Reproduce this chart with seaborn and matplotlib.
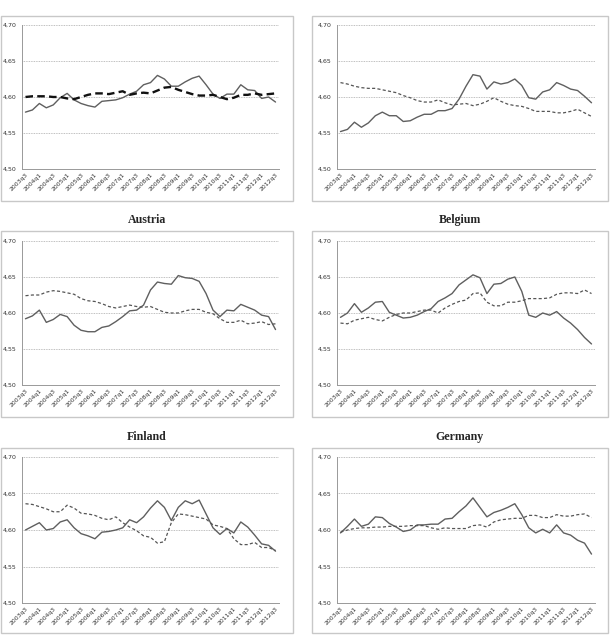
import numpy as np
import pandas as pd
from matplotlib import pyplot as plt
from matplotlib.patches import Rectangle
import seaborn as sns

# quarters 2003q3 .. 2012q3
quarters = [f'{y}q{q}' for y in range(2003, 2013) for q in (1, 2, 3, 4)][2:-1]

titles = ['', '', 'Austria', 'Belgium', 'Finland', 'Germany']

solid_1 = [4.579, 4.582, 4.591, 4.585, 4.589, 4.599, 4.605, 4.596, 4.591, 4.588, 4.586, 4.594, 4.595,
           4.596, 4.599, 4.604, 4.608, 4.617, 4.620, 4.630, 4.625, 4.615, 4.615, 4.621, 4.626, 4.629,
           4.617, 4.604, 4.598, 4.604, 4.604, 4.617, 4.610, 4.609, 4.598, 4.600, 4.593]
dashed_1 = [4.600, 4.601, 4.601, 4.601, 4.600, 4.600, 4.598, 4.597, 4.600, 4.603, 4.605, 4.605, 4.604,
            4.606, 4.608, 4.603, 4.605, 4.606, 4.605, 4.609, 4.613, 4.614, 4.610, 4.607, 4.604, 4.602,
            4.602, 4.603, 4.600, 4.597, 4.599, 4.603, 4.603, 4.605, 4.603, 4.604, 4.605]

solid_2 = [4.552, 4.555, 4.565, 4.558, 4.564, 4.574, 4.579, 4.574, 4.574, 4.566, 4.567, 4.572, 4.576,
           4.576, 4.581, 4.581, 4.584, 4.597, 4.615, 4.631, 4.629, 4.611, 4.621, 4.618, 4.620, 4.625,
           4.616, 4.599, 4.597, 4.607, 4.610, 4.620, 4.616, 4.611, 4.609, 4.601, 4.592]
dashed_2 = [4.620, 4.618, 4.615, 4.613, 4.612, 4.612, 4.610, 4.608, 4.606, 4.602, 4.599, 4.595, 4.593,
            4.593, 4.596, 4.592, 4.589, 4.590, 4.591, 4.588, 4.590, 4.594, 4.599, 4.594, 4.590, 4.588,
            4.587, 4.584, 4.580, 4.580, 4.580, 4.578, 4.578, 4.580, 4.583, 4.578, 4.573]

solid_at = [4.592, 4.596, 4.604, 4.587, 4.591, 4.598, 4.595, 4.583, 4.576, 4.574, 4.574, 4.580, 4.582,
            4.588, 4.595, 4.603, 4.604, 4.611, 4.632, 4.643, 4.641, 4.640, 4.652, 4.649, 4.648, 4.644,
            4.627, 4.604, 4.595, 4.604, 4.603, 4.612, 4.608, 4.604, 4.597, 4.595, 4.577]
dashed_at = [4.624, 4.625, 4.625, 4.629, 4.631, 4.630, 4.628, 4.626, 4.620, 4.617, 4.616, 4.613, 4.609,
             4.607, 4.609, 4.611, 4.609, 4.608, 4.609, 4.605, 4.601, 4.600, 4.600, 4.603, 4.605, 4.605,
             4.601, 4.599, 4.592, 4.587, 4.587, 4.590, 4.585, 4.586, 4.588, 4.584, 4.585]

solid_be = [4.594, 4.600, 4.613, 4.601, 4.607, 4.615, 4.616, 4.601, 4.597, 4.593, 4.594, 4.597, 4.602,
            4.606, 4.616, 4.621, 4.627, 4.639, 4.646, 4.653, 4.649, 4.627, 4.640, 4.641, 4.647, 4.650,
            4.630, 4.597, 4.594, 4.600, 4.597, 4.602, 4.593, 4.586, 4.577, 4.566, 4.557]
dashed_be = [4.586, 4.585, 4.590, 4.592, 4.594, 4.591, 4.589, 4.594, 4.598, 4.600, 4.600, 4.602, 4.604,
             4.604, 4.600, 4.607, 4.612, 4.616, 4.618, 4.627, 4.628, 4.615, 4.610, 4.610, 4.615, 4.615,
             4.617, 4.620, 4.620, 4.620, 4.621, 4.626, 4.628, 4.628, 4.627, 4.632, 4.627]

solid_fi = [4.600, 4.605, 4.610, 4.600, 4.602, 4.611, 4.614, 4.603, 4.595, 4.592, 4.588, 4.597, 4.598,
            4.600, 4.603, 4.614, 4.610, 4.618, 4.630, 4.640, 4.631, 4.613, 4.631, 4.640, 4.636, 4.641,
            4.622, 4.603, 4.594, 4.602, 4.596, 4.611, 4.604, 4.593, 4.581, 4.579, 4.571]
dashed_fi = [4.636, 4.635, 4.632, 4.629, 4.625, 4.625, 4.634, 4.630, 4.623, 4.622, 4.620, 4.616, 4.614,
             4.618, 4.610, 4.604, 4.599, 4.592, 4.590, 4.582, 4.584, 4.610, 4.622, 4.621, 4.619, 4.617,
             4.615, 4.607, 4.605, 4.602, 4.588, 4.580, 4.580, 4.583, 4.576, 4.576, 4.572]

solid_de = [4.596, 4.605, 4.615, 4.605, 4.608, 4.618, 4.617, 4.609, 4.604, 4.598, 4.600, 4.607, 4.607,
            4.608, 4.608, 4.615, 4.616, 4.625, 4.633, 4.644, 4.631, 4.618, 4.624, 4.627, 4.631, 4.636,
            4.621, 4.603, 4.596, 4.601, 4.596, 4.607, 4.596, 4.593, 4.586, 4.582, 4.567]
dashed_de = [4.597, 4.600, 4.602, 4.603, 4.603, 4.604, 4.604, 4.605, 4.605, 4.605, 4.606, 4.606, 4.606,
             4.603, 4.601, 4.603, 4.602, 4.602, 4.602, 4.606, 4.607, 4.604, 4.611, 4.614, 4.615, 4.616,
             4.616, 4.620, 4.620, 4.617, 4.617, 4.621, 4.619, 4.619, 4.621, 4.622, 4.617]

solids = [solid_1, solid_2, solid_at, solid_be, solid_fi, solid_de]
dashes = [dashed_1, dashed_2, dashed_at, dashed_be, dashed_fi, dashed_de]

y_ticks = [4.50, 4.55, 4.60, 4.65, 4.70]

W, H = 613, 637
# plot areas in pixels: (left, top, right, bottom)
plot_px = [(22, 25, 279, 169), (337, 25, 595, 169),
           (22, 241, 279, 385), (337, 241, 595, 385),
           (22, 457, 279, 603), (337, 457, 595, 603)]
box_px = [(1, 16, 293, 201), (312, 16, 608, 201),
          (1, 231, 293, 417), (312, 231, 608, 417),
          (1, 448, 293, 633), (312, 448, 608, 633)]

sns.set_style('white')
plt.rcParams['font.family'] = ['DejaVu Sans']
fig = plt.figure(figsize=(W / 100, H / 100), dpi=100)

for k in range(6):
    l, t, r, b = box_px[k]
    fig.patches.append(Rectangle((l / W, 1 - b / H), (r - l) / W, (b - t) / H,
                                 transform=fig.transFigure, fill=False,
                                 edgecolor='#c8c8c8', linewidth=1.0))
    l, t, r, b = plot_px[k]
    ax = fig.add_axes([l / W, 1 - b / H, (r - l) / W, (b - t) / H])
    df = pd.DataFrame({'idx': np.arange(len(quarters)), 'solid': solids[k], 'dashed': dashes[k]})
    sns.lineplot(data=df, x='idx', y='solid', ax=ax, color='#5f5f5f', linewidth=1.0)
    if k == 0:
        sns.lineplot(data=df, x='idx', y='dashed', ax=ax, color='#111111', linewidth=1.7,
                     dashes=False, linestyle=(0, (3.2, 1.8)))
    else:
        sns.lineplot(data=df, x='idx', y='dashed', ax=ax, color='#555555', linewidth=0.9,
                     dashes=False, linestyle=(0, (2.5, 1.8)))

    ax.set_xlim(-0.5, len(quarters) - 0.5)
    ax.set_ylim(4.50, 4.70)
    ax.set_yticks(y_ticks)
    ax.set_yticklabels([f'{v:.2f}'.replace('.', ',') for v in y_ticks], fontsize=4.5, color='#333333')
    ax.set_xticks(range(0, len(quarters), 2))
    ax.set_xticklabels(quarters[::2], rotation=45, ha='right', rotation_mode='anchor',
                       fontsize=4.4, color='#333333')
    ax.set_xticks(np.arange(-0.5, len(quarters), 1), minor=True)
    ax.tick_params(axis='x', which='major', length=0, pad=2.5)
    ax.tick_params(axis='x', which='minor', length=2, width=0.5, color='#888888', direction='out')
    ax.tick_params(axis='y', length=2, width=0.5, color='#888888', pad=2)
    ax.grid(axis='y', linestyle=(0, (1, 1)), color='#aaaaaa', linewidth=0.6)
    ax.set_axisbelow(True)
    for s in ['top', 'right']:
        ax.spines[s].set_visible(False)
    for s in ['left', 'bottom']:
        ax.spines[s].set_color('#999999')
        ax.spines[s].set_linewidth(0.7)
    ax.set_xlabel('')
    ax.set_ylabel('')
    if titles[k]:
        cx = (box_px[k][0] + box_px[k][2]) / 2
        fig.text(cx / W, 1 - (box_px[k][1] - 11) / H, titles[k], ha='center', va='center',
                 fontsize=8.6, fontweight='bold', family=['Liberation Serif', 'DejaVu Serif'])

fig.savefig('out.png', dpi=100)
